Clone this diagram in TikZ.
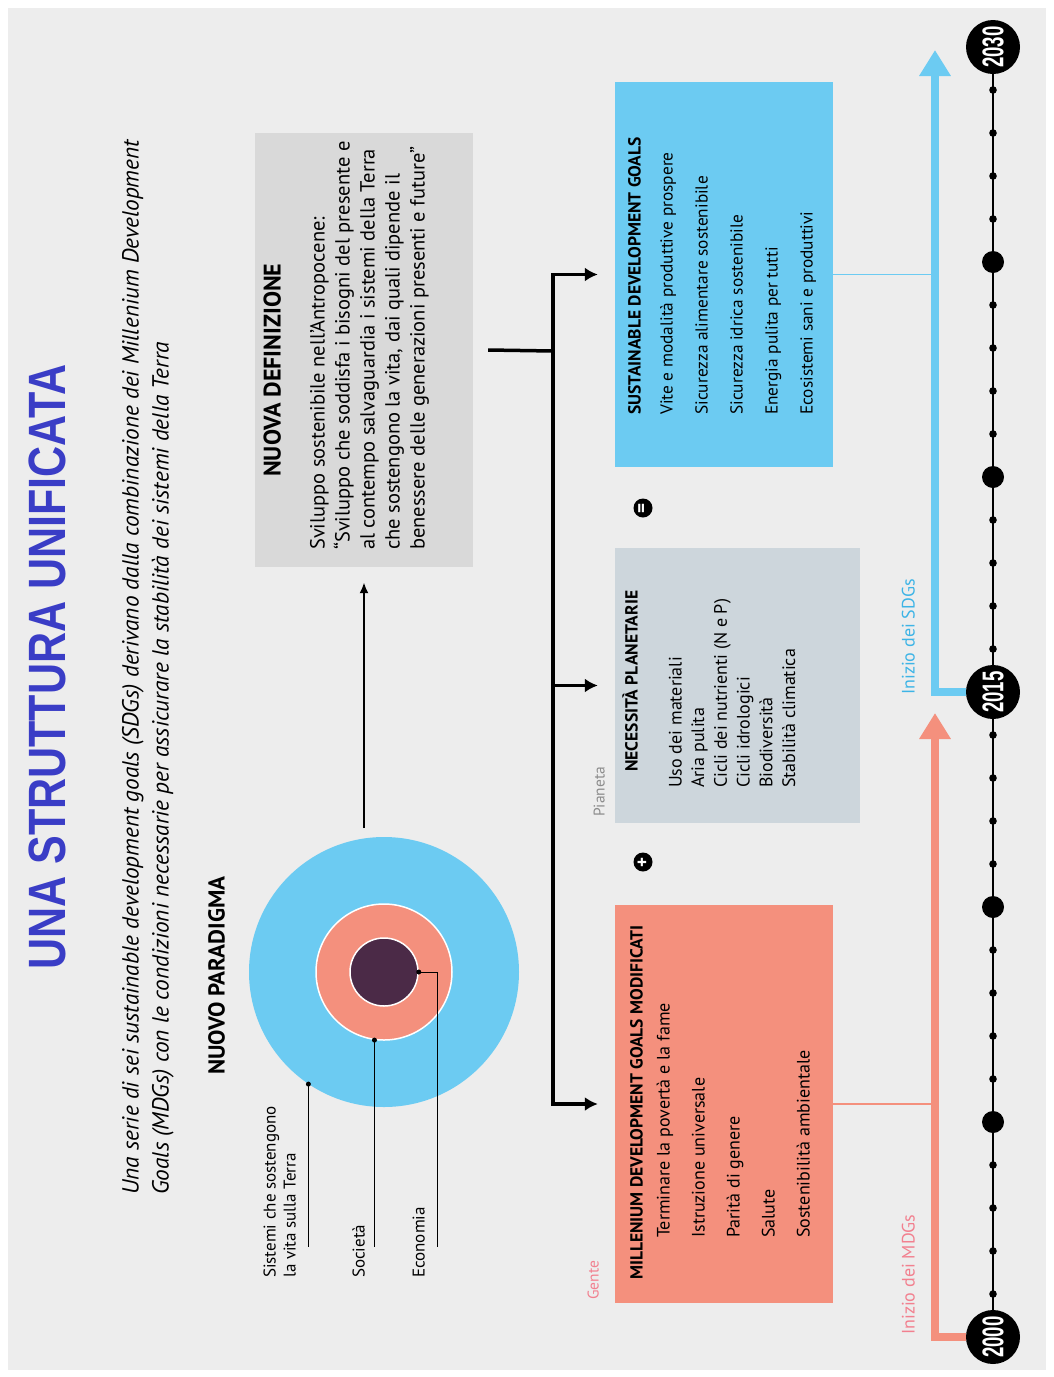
\documentclass[tikz,border=0pt]{standalone}
\usepackage{fontspec}
\setmainfont{PT Sans}
\newfontfamily\titlefont[FakeStretch=0.82]{Liberation Sans}
\newfontfamily\yearfont[FakeStretch=0.62]{Liberation Sans}
\usetikzlibrary{arrows.meta,positioning}

\definecolor{sfondo}{HTML}{EDEDED}
\definecolor{blutitolo}{HTML}{3A3DC6}
\definecolor{azzurro}{HTML}{6CCBF2}
\definecolor{salmone}{HTML}{F4907D}
\definecolor{grigioblu}{HTML}{CDD6DC}
\definecolor{grigio}{HTML}{D9D9D9}
\definecolor{viola}{HTML}{4B2A47}
\definecolor{rosa}{HTML}{F2808F}
\definecolor{blutesto}{HTML}{3DB4E6}

\tikzset{
  rtext/.style={rotate=90, anchor=mid west, inner sep=0pt},
  voce/.style={rtext, font=\fontsize{18}{22}\selectfont},
  testata/.style={rtext, font=\bfseries\fontsize{17.5}{20}\selectfont},
  riquadro/.style={rectangle, inner sep=0pt, draw=none},
  anno/.style={circle, fill=black, minimum size=54pt, inner sep=0pt, text=white,
    font=\yearfont\bfseries\fontsize{30}{30}\selectfont},
  segno/.style={circle, fill=black, minimum size=19pt, inner sep=0pt, text=white,
    rotate=90, font=\bfseries\fontsize{19}{19}\selectfont},
  freccia/.style={line width=3.5pt, -{Latex[length=13pt,width=14pt]}},
  grossa/.style={line width=8pt, -{Triangle[length=26pt,width=30pt]}},
  guida/.style={line width=1pt},
}

\begin{document}
\begin{tikzpicture}[x=1pt, y={(0pt,-1pt)}]

  % Sfondo
  \useasboundingbox (0,0) rectangle (1054,1377);
  \fill[white] (0,0) rectangle (1054,1377);
  \fill[sfondo] (8,8) rectangle (1046,1370);

  % Titolo e sottotitolo
  \node[rtext, text=blutitolo, font=\titlefont\bfseries\fontsize{52.5}{52}\selectfont]
    (titolo) at (63,970) {UNA STRUTTURA UNIFICATA};
  \foreach \riga [count=\i from 0] in
    {Una serie di sei sustainable development goals (SDGs) derivano dalla combinazione dei Millenium Development,
     Goals (MDGs) con le condizioni necessarie per assicurare la stabilità dei sistemi della Terra}
    \node[rtext, font=\itshape\fontsize{23.3}{28}\selectfont] (sotto\i) at ({136+30*\i},1195) {\riga};

  % Nuovo paradigma
  \node[rtext, font=\bfseries\fontsize{23}{26}\selectfont] (paradigma) at (222,1075) {NUOVO PARADIGMA};
  \node[circle, fill=azzurro, minimum size=270pt, inner sep=0pt] (terra) at (384,972) {};
  \node[circle, fill=salmone, draw=white, line width=1.5pt, minimum size=136pt, inner sep=0pt] (societa) at (384,972) {};
  \node[circle, fill=viola, draw=white, line width=1.5pt, minimum size=68pt, inner sep=0pt] (economia) at (384,972) {};

  \coordinate (piede) at (0,1247);
  \coordinate (gomito) at (437,1247);
  \draw[guida] (terra.236) -- (terra.236 |- piede);
  \draw[guida] (societa.262) -- (societa.262 |- piede);
  \draw[guida] (economia.east) -| (gomito);
  \foreach \p in {terra.236, societa.262, economia.east}
    \fill (\p) circle[radius=2.5];

  \node[rtext, font=\fontsize{17}{20}\selectfont] (lab1) at (273,1278) {Sistemi che sostengono};
  \node[rtext, font=\fontsize{17}{20}\selectfont] (lab2) at (293,1278) {la vita sulla Terra};
  \node[rtext, font=\fontsize{17}{20}\selectfont] (lab3) at (362,1278) {Società};
  \node[rtext, font=\fontsize{17}{20}\selectfont] (lab4) at (422,1278) {Economia};

  % Nuova definizione
  \node[riquadro, fill=grigio, minimum width=218pt, minimum height=434pt] (def) at (364,350) {};
  \node[rtext, font=\bfseries\fontsize{24}{26}\selectfont] (deftit) at (278,477) {NUOVA DEFINIZIONE};
  \foreach \riga [count=\i from 0] in
    {Sviluppo sostenibile nell’Antropocene:,
     “Sviluppo che soddisfa i bisogni del presente e,
     al contempo salvaguardia i sistemi della Terra,
     {che sostengono la vita, dai quali dipende il},
     benessere delle generazioni presenti e future”}
    \node[rtext, font=\fontsize{20.5}{24}\selectfont] (def\i) at ({322+25*\i},550) {\riga};

  \coordinate (partenza) at (363,828);
  \draw[line width=2.2pt, -{Latex[length=11pt,width=9pt]}] (def.south |- partenza) -- ([yshift=-15pt]def.south);

  % Riquadri degli obiettivi
  \node[riquadro, fill=salmone, minimum width=218pt, minimum height=398pt] (mdg) at (724,1104) {};
  \node[riquadro, fill=grigioblu, minimum width=245pt, minimum height=275pt] (pn) at (737.5,685.5) {};
  \node[riquadro, fill=azzurro, minimum width=218pt, minimum height=385pt] (sdg) at (724,274.5) {};

  \node[testata] (mdgtit) at (640,1280) {MILLENIUM DEVELOPMENT GOALS MODIFICATI};
  \foreach \riga [count=\i from 0] in
    {Terminare la povertà e la fame, Istruzione universale, Parità di genere, Salute, Sostenibilità ambientale}
    \node[voce] (mdg\i) at ({667+35*\i},1238) {\riga};

  \node[testata] (pntit) at (635,772) {NECESSITÀ PLANETARIE};
  \foreach \riga [count=\i from 0] in
    {Uso dei materiali, Aria pulita, Cicli dei nutrienti (N e P), Cicli idrologici, Biodiversità, Stabilità climatica}
    \node[voce] (pn\i) at ({679+22.7*\i},788) {\riga};

  \node[testata] (sdgtit) at (638,415) {SUSTAINABLE DEVELOPMENT GOALS};
  \foreach \riga [count=\i from 0] in
    {Vite e modalità produttive prospere, Sicurezza alimentare sostenibile, Sicurezza idrica sostenibile,
     Energia pulita per tutti, Ecosistemi sani e produttivi}
    \node[voce, font=\fontsize{17.3}{21}\selectfont] (sdg\i) at ({670+35*\i},415) {\riga};

  \node[rtext, text=rosa, font=\fontsize{15.5}{18}\selectfont] (gente) at (596,1300) {Gente};
  \node[rtext, text=black!45, font=\fontsize{15.5}{18}\selectfont] (pianeta) at (602,817) {Pianeta};

  \node[segno] (piu) at (643,862) {+};
  \node[segno] (uguale) at (643,508) {=};

  % Connettori neri
  \coordinate (snodo) at (553,351);
  \draw[line width=3.5pt] ([xshift=15pt]def.east) -- (snodo);
  \draw[freccia] (snodo) |- ([xshift=-17pt]sdg.west);
  \draw[freccia] (snodo) |- ([xshift=-17pt]pn.west);
  \draw[freccia] (snodo) |- ([xshift=-17pt]mdg.west);

  % Linea del tempo
  \coordinate (inizio) at (993,1337);
  \coordinate (fine) at (993,47);
  \draw[line width=2.5pt] (fine) -- (inizio);
  \foreach \a in {1,...,14,16,17,...,29}
    \fill (993,{1337-43*\a}) circle[radius=3.8];
  \foreach \a in {5,10,20,25}
    \fill (993,{1337-43*\a}) circle[radius=11];
  \node[anno] (a2000) at (inizio) {\rotatebox{90}{2000}};
  \node[anno] (a2015) at (993,692) {\rotatebox{90}{2015}};
  \node[anno] (a2030) at (fine) {\rotatebox{90}{2030}};

  \coordinate (puntaMDG) at (935,713);
  \coordinate (puntaSDG) at (935,50);
  \draw[grossa, salmone] (a2000.west) -| (puntaMDG);
  \draw[grossa, azzurro] (a2015.west) -| (puntaSDG);
  \draw[salmone, line width=1.3pt] (mdg.east) -- (mdg.east -| puntaMDG);
  \draw[azzurro, line width=1.3pt] (sdg.east) -- (sdg.east -| puntaSDG);

  \node[rtext, text=rosa, font=\fontsize{18}{20}\selectfont] (iniziomdg) at (912,1335) {Inizio dei MDGs};
  \node[rtext, text=blutesto, font=\fontsize{18}{20}\selectfont] (iniziosdg) at (912,695) {Inizio dei SDGs};

\end{tikzpicture}
\end{document}
